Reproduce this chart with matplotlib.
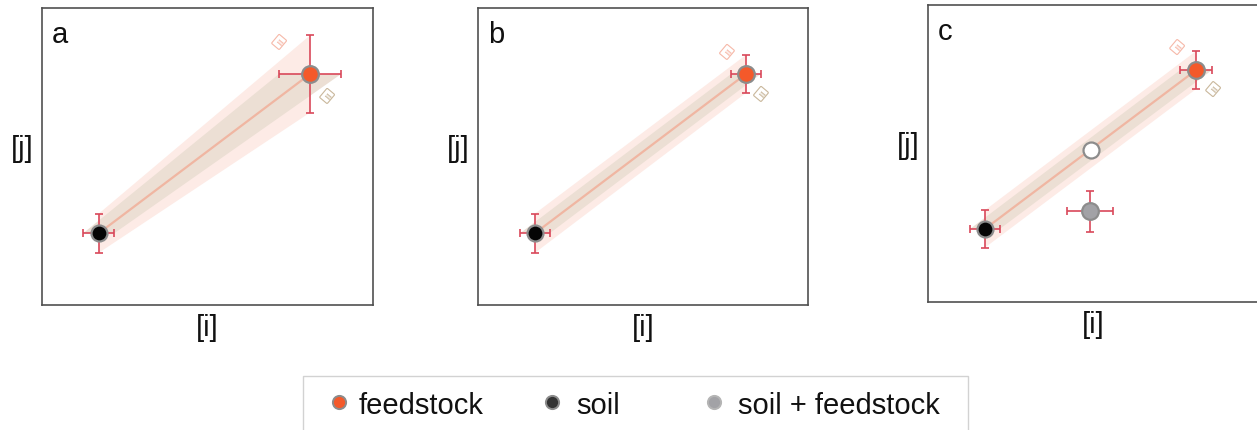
import matplotlib
matplotlib.use("Agg")
import matplotlib.pyplot as plt
from matplotlib.lines import Line2D
from matplotlib.patches import Rectangle

# ------------------------------------------------------------
# Data (axis units 0..1, no real scale in the source figure)
# ------------------------------------------------------------

panel_labels = ["a", "b", "c"]

soil_xy = [(0.172, 0.242), (0.173, 0.242), (0.172, 0.246)]
soil_err = [(0.047, 0.066), (0.045, 0.066), (0.045, 0.063)]

feedstock_xy = [(0.810, 0.778), (0.812, 0.778), (0.810, 0.781)]
feedstock_err = [(0.094, 0.130), (0.045, 0.064), (0.048, 0.064)]

# panel c only
mix_expected_xy = (0.492, 0.512)
mix_measured_xy = (0.489, 0.306)
mix_measured_err = (0.069, 0.069)

legend_labels = ["feedstock", "soil", "soil + feedstock"]

# ------------------------------------------------------------
# Styles
# ------------------------------------------------------------

FONT = ["Liberation Sans", "DejaVu Sans"]
plt.rcParams["font.family"] = FONT

ORANGE = "#f4592a"
BLACK = "#050505"
GREY_PT = "#a2a2a6"
EDGE = "#8c8c8c"
ERR = "#d9485a"
BAND_OUTER = "#fdebe6"
BAND_INNER = "#ecdfd4"
MIX_LINE = "#f0b6a2"
TEXT = "#111111"

W, H = 1257, 431
fig = plt.figure(figsize=(W / 100, H / 100), dpi=100)

# axes boxes in pixels: left, top, width, height
boxes = [(42, 9, 331, 297), (478, 9, 330, 297), (928, 6, 331, 297)]
# small rotated glyph offsets from feedstock point (pixels)
glyph_offsets = [((-31, 32), (17, -22)), ((-19, 22), (15, -20)), ((-19, 23), (17, -19))]


def draw_point(ax, xy, err, color, size=12):
    if err is not None:
        ax.errorbar(xy[0], xy[1], xerr=err[0], yerr=err[1], fmt="none",
                    ecolor=ERR, elinewidth=1.2, capsize=3, capthick=1.2, zorder=4)
    ax.plot(xy[0], xy[1], "o", ms=size, mfc=color, mec=EDGE, mew=1.6, zorder=5)


def glyph(ax, xy, offset, color):
    ax.annotate("≡", xy, xytext=(offset[0] * 0.72, offset[1] * 0.72),
                textcoords="offset points", ha="center", va="center",
                rotation=-40, fontsize=7, color=color, family="DejaVu Sans",
                bbox=dict(boxstyle="round,pad=0.1", fc="none", ec=color, lw=0.8))


for k, (left, top, width, height) in enumerate(boxes):
    ax = fig.add_axes([left / W, (H - top - height) / H, width / W, height / H])
    ax.set_xlim(0, 1)
    ax.set_ylim(0, 1)
    ax.set_xticks([])
    ax.set_yticks([])
    for spine in ax.spines.values():
        spine.set_color("#505050")
        spine.set_linewidth(1.2)

    (sx, sy), (sex, sey) = soil_xy[k], soil_err[k]
    (fx, fy), (fex, fey) = feedstock_xy[k], feedstock_err[k]

    # outer band: spread from the [j] uncertainty of both end members
    ax.fill([sx, fx, fx, sx], [sy - sey, fy - fey, fy + fey, sy + sey],
            color=BAND_OUTER, lw=0, zorder=1)
    # inner band: spread from the [i] uncertainty of both end members
    ax.fill([sx - sex, sx + sex, fx + fex, fx - fex], [sy, sy, fy, fy],
            color=BAND_INNER, lw=0, zorder=2)
    ax.plot([sx, fx], [sy, fy], color=MIX_LINE, lw=1.6, zorder=3)

    draw_point(ax, (sx, sy), (sex, sey), BLACK, size=11.5)
    draw_point(ax, (fx, fy), (fex, fey), ORANGE)

    if k == 2:
        draw_point(ax, mix_expected_xy, None, "white", size=11.5)
        draw_point(ax, mix_measured_xy, mix_measured_err, GREY_PT)

    upper, lower = glyph_offsets[k]
    glyph(ax, (fx, fy), upper, "#f6b8a8")
    glyph(ax, (fx, fy), lower, "#c9b79b")

    ax.text(10 / width, 1 - 34 / height, panel_labels[k], transform=ax.transAxes,
            fontsize=21, ha="left", va="baseline", color=TEXT)
    ax.text(0.5, -22 / height, "[i]", transform=ax.transAxes,
            fontsize=21, ha="center", va="center", color=TEXT)
    ax.text(-20 / width, 0.53, "[j]", transform=ax.transAxes,
            fontsize=21, ha="center", va="center", color=TEXT)

# ------------------------------------------------------------
# Legend (drawn by hand, columns are unevenly spaced in the source)
# ------------------------------------------------------------

fig.add_artist(Rectangle((303 / W, -0.05), (968 - 303) / W, (H - 377) / H + 0.05,
                         transform=fig.transFigure, fc="white", ec="#d2d2d2", lw=1.0,
                         clip_on=False))
legend_colors = [(ORANGE, EDGE), ("#333333", EDGE), (GREY_PT, "#b5b5b5")]
legend_marker_x = [339, 552, 714]
legend_text_x = [359, 576, 738]
legend_y = 1 - 403 / H
for label, (fc, ec), mx, tx in zip(legend_labels, legend_colors, legend_marker_x, legend_text_x):
    fig.add_artist(Line2D([mx / W], [legend_y], ls="none", marker="o", ms=9.5,
                          mfc=fc, mec=ec, mew=1.4, transform=fig.transFigure))
    fig.text(tx / W, legend_y, label, fontsize=21, ha="left", va="center_baseline",
             color=TEXT)

fig.savefig("out.png", dpi=100)
